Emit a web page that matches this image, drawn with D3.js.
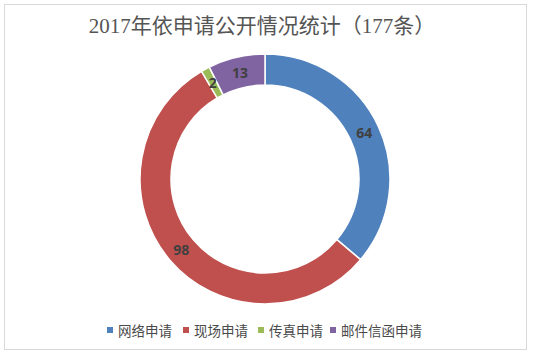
<!DOCTYPE html>
<html><head><meta charset="utf-8">
<script src="https://cdn.jsdelivr.net/npm/d3@7"></script>
<style>body{margin:0;background:#fff;}svg{display:block;}</style>
</head><body>
<svg id="chart" width="533" height="355"></svg>
<script>
const categories = ["网络申请", "现场申请", "传真申请", "邮件信函申请"];
const values = [64, 98, 2, 13];
const colors = ["#4f81bd", "#c0504d", "#9bbb59", "#8064a2"];
const title = "2017年依申请公开情况统计（177条）";

const svg = d3.select("#chart");
svg.append("rect").attr("x", 4.5).attr("y", 4.5).attr("width", 522).attr("height", 345)
  .attr("fill", "#fff").attr("stroke", "#d9d9d9").attr("stroke-width", 1);

svg.append("text").attr("x", 262).attr("y", 33).attr("text-anchor", "middle")
  .attr("font-family", "'Liberation Serif', 'Noto Sans CJK SC', serif")
  .attr("font-size", 21).attr("fill", "#555555").text(title);

const cx = 265, cy = 179, rOuter = 125, rInner = 94;
const pie = d3.pie().sort(null).value(d => d.v);
const arcs = pie(categories.map((c, i) => ({c, v: values[i], col: colors[i]})));
const arc = d3.arc().innerRadius(rInner).outerRadius(rOuter);
const g = svg.append("g").attr("transform", `translate(${cx},${cy})`);
g.selectAll("path").data(arcs).join("path")
  .attr("d", arc).attr("fill", d => d.data.col)
  .attr("stroke", "#fff").attr("stroke-width", 1.5);
g.selectAll("text").data(arcs).join("text")
  .attr("transform", d => `translate(${arc.centroid(d)})`)
  .attr("text-anchor", "middle").attr("dy", "0.4em")
  .attr("font-family", "'Open Sans', 'Liberation Sans', sans-serif")
  .attr("font-weight", "bold").attr("font-size", 14).attr("fill", "#404040")
  .text(d => d.data.v);

// legend
const legendX = [107, 183, 258, 330];
const lg = svg.append("g");
categories.forEach((c, i) => {
  lg.append("rect").attr("x", legendX[i]).attr("y", 327).attr("width", 6).attr("height", 6)
    .attr("fill", colors[i]);
  lg.append("text").attr("x", legendX[i] + 11).attr("y", 335.5)
    .attr("font-family", "'Noto Sans CJK SC', sans-serif")
    .attr("font-size", 13.5).attr("fill", "#4a4a4a").text(c);
});
</script>
</body></html>
